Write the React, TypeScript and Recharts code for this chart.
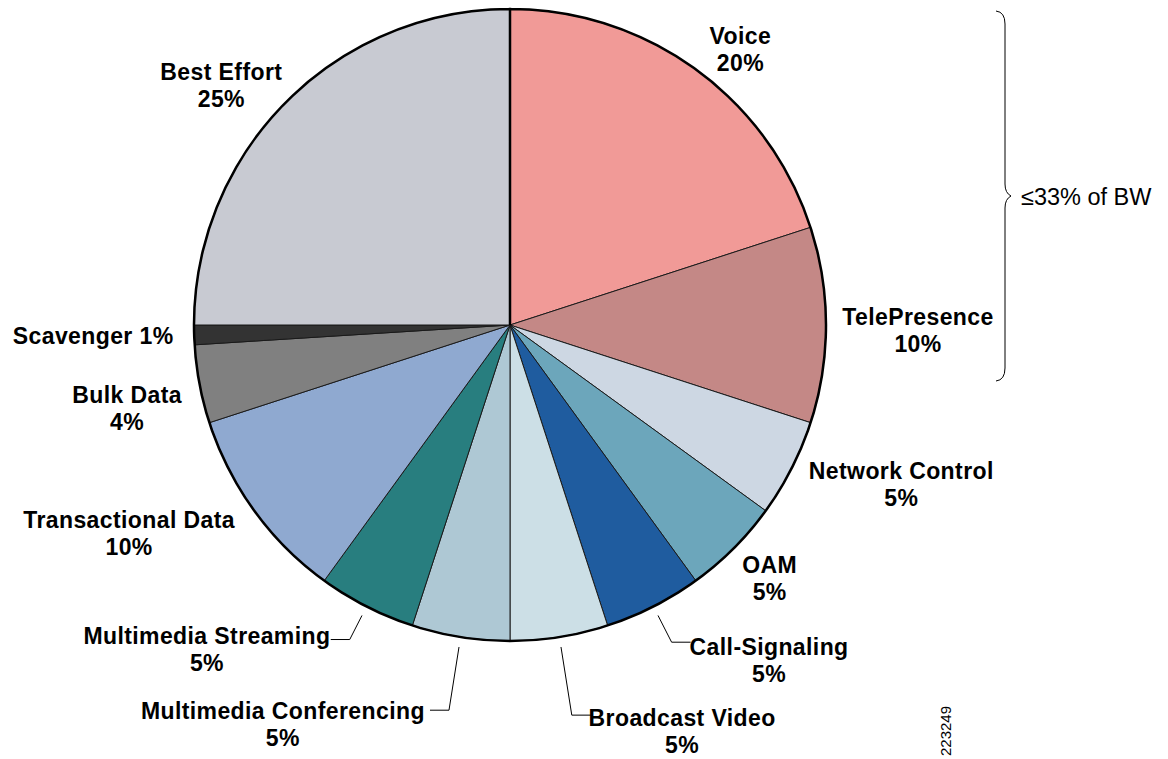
import React from 'react';
import { PieChart, Pie, Cell } from 'recharts';

const categories = [
  'Voice',
  'TelePresence',
  'Network Control',
  'OAM',
  'Call-Signaling',
  'Broadcast Video',
  'Multimedia Conferencing',
  'Multimedia Streaming',
  'Transactional Data',
  'Bulk Data',
  'Scavenger',
  'Best Effort',
];
const shares = [20, 10, 5, 5, 5, 5, 5, 5, 10, 4, 1, 25];
const colors = [
  '#f19a97', '#c48886', '#cdd7e3', '#6ca6bb', '#1f5c9f', '#ccdfe6',
  '#aec8d4', '#287e7f', '#8fa9d0', '#808080', '#333333', '#c8cad2',
];

// label placement: offset from the point 30px outside the rim, optional leader elbow
const labelLayout = [
  { dx: 27, dy: 4 },
  { dx: 62, dy: 5 },
  { dx: 83, dy: 2 },
  { dx: 15, dy: 9 },
  { dx: 102, dy: 27, elbow: 40 },
  { dx: 118, dy: 65, elbow: 79 },
  { dx: -173, dy: 58, elbow: 74 },
  { dx: -146, dy: 16, elbow: 37 },
  { dx: -101, dy: 5 },
  { dx: -43, dy: 19 },
  { dx: -71, dy: 0, single: true },
  { dx: -44, dy: 5 },
];

const data = categories.map((name, i) => ({ name, value: shares[i] }));
const RAD = Math.PI / 180;
const FONT = 'Liberation Sans, Arial, Helvetica, sans-serif';

const renderLabel = (props: any) => {
  const { cx, cy, midAngle, outerRadius, index } = props;
  const lay: any = labelLayout[index];
  const cos = Math.cos(-midAngle * RAD);
  const sin = Math.sin(-midAngle * RAD);
  const r = outerRadius + 30;
  const x = cx + r * cos + lay.dx;
  const y = cy + r * sin + lay.dy;
  const pct = `${shares[index]}%`;
  let leader = null;
  if (lay.elbow) {
    const r0 = outerRadius + 10;
    const r1 = outerRadius + lay.elbow;
    const ex = cx + r1 * cos;
    const ey = cy + r1 * sin;
    const hx = ex + (cos > 0 ? 19 : -19);
    leader = (
      <polyline
        points={`${cx + r0 * cos},${cy + r0 * sin} ${ex},${ey} ${hx},${ey}`}
        fill="none"
        stroke="#000"
        strokeWidth={1}
      />
    );
  }
  const textProps = {
    x,
    textAnchor: 'middle' as const,
    dominantBaseline: 'central' as const,
    fontFamily: FONT,
    fontWeight: 700,
    fontSize: 23,
    letterSpacing: 0.4,
    fill: '#000',
  };
  return (
    <g>
      {leader}
      {lay.single ? (
        <text {...textProps} y={y}>{`${categories[index]} ${pct}`}</text>
      ) : (
        <>
          <text {...textProps} y={y - 13.5}>{categories[index]}</text>
          <text {...textProps} y={y + 13.5}>{pct}</text>
        </>
      )}
    </g>
  );
};

export default function App() {
  return (
    <div
      style={{
        position: 'fixed',
        left: 0,
        top: 0,
        width: 1168,
        height: 759,
        overflow: 'hidden',
        background: '#fff',
      }}
    >
      <PieChart width={1168} height={759} margin={{ top: 0, right: 0, bottom: 0, left: 0 }}>
        <Pie
          data={data}
          dataKey="value"
          cx={510}
          cy={325}
          outerRadius={316}
          startAngle={90}
          endAngle={-270}
          stroke="#1a1a1a"
          strokeWidth={1}
          label={renderLabel}
          labelLine={false}
          isAnimationActive={false}
        >
          {data.map((d, i) => (
            <Cell key={d.name} fill={colors[i]} />
          ))}
        </Pie>
        <Pie
          data={[{ name: 'rim', value: 1 }]}
          dataKey="value"
          cx={510}
          cy={325}
          outerRadius={316}
          startAngle={90}
          endAngle={-270}
          fill="none"
          stroke="#000"
          strokeWidth={2.5}
          isAnimationActive={false}
        />
      </PieChart>
      <svg
        width={1168}
        height={759}
        style={{ position: 'absolute', left: 0, top: 0, pointerEvents: 'none' }}
      >
        <path
          d="M 996 11 Q 1005 12 1005 24 L 1005 184 Q 1005 193 1011 196 Q 1005 199 1005 208 L 1005 368 Q 1005 380 996 381"
          fill="none"
          stroke="#000"
          strokeWidth={1}
        />
        <text x={1021} y={197} dominantBaseline="central" fontFamily={FONT} fontSize={23.5} fill="#000">
          ≤33% of BW
        </text>
        <text
          x={945}
          y={731}
          transform="rotate(-90 945 731)"
          textAnchor="middle"
          dominantBaseline="central"
          fontFamily={FONT}
          fontSize={15}
          fill="#000"
        >
          223249
        </text>
      </svg>
    </div>
  );
}
